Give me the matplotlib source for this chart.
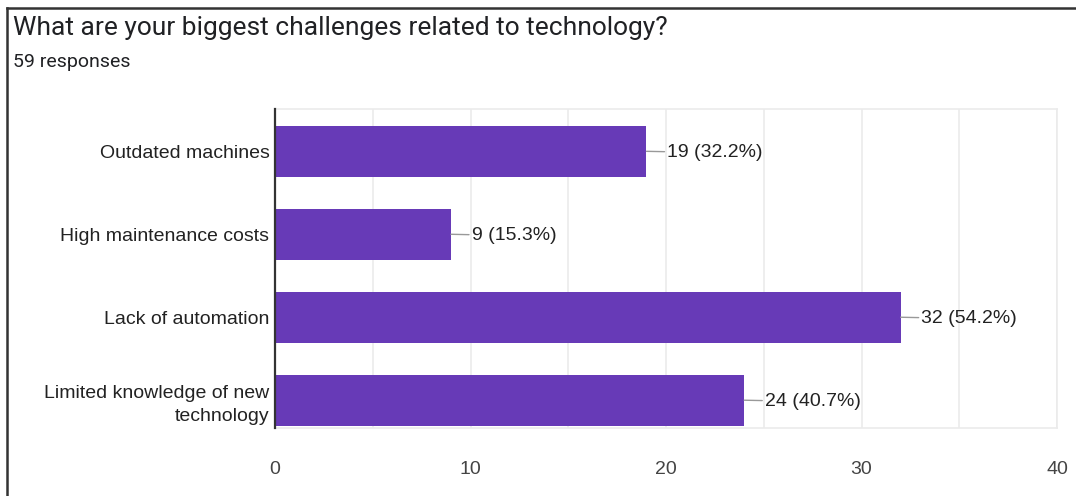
import matplotlib.pyplot as plt
from matplotlib.lines import Line2D
from matplotlib.ticker import MultipleLocator

categories = ["Outdated machines", "High maintenance costs", "Lack of automation",
              "Limited knowledge of new\ntechnology"]
counts = [19, 9, 32, 24]
total_responses = 59
x_ticks = [0, 10, 20, 30, 40]

title = "What are your biggest challenges related to technology?"
subtitle = f"{total_responses} responses"

BAR = "#673ab7"
GRID = "#ebebeb"

W, H = 1076, 496
fig = plt.figure(figsize=(W / 100, H / 100), dpi=100)
fig.patch.set_facecolor("white")

def fx(px):
    return px / W

def fy(py):
    return 1 - py / H

ax = fig.add_axes([fx(275), fy(428), fx(1057) - fx(275), fy(109) - fy(428)])

ypos = list(range(len(categories)))
ax.barh(ypos, counts, height=0.616, color=BAR, zorder=3)
ax.set_ylim(3.335, -0.51)
ax.set_xlim(0, 40)

ax.set_yticks(ypos)
ax.set_yticklabels(categories, fontsize=14, family="Liberation Sans", color="#222222",
                   ha="right", multialignment="right", linespacing=1.45)
ax.set_xticks(x_ticks)
ax.set_xticklabels([str(t) for t in x_ticks], fontsize=14, family="Liberation Sans",
                   color="#444444")
ax.tick_params(axis="both", which="both", length=0)
ax.tick_params(axis="y", pad=4)
ax.tick_params(axis="x", pad=24)

ax.xaxis.set_minor_locator(MultipleLocator(5))
ax.grid(axis="x", which="both", color=GRID, lw=1.2, zorder=0)
ax.grid(axis="y", visible=False)

for side in ("top", "right", "bottom"):
    ax.spines[side].set_color(GRID)
    ax.spines[side].set_linewidth(1.2)
ax.spines["left"].set_color("#333333")
ax.spines["left"].set_linewidth(1.6)
ax.spines["left"].set_zorder(4)

for i, v in enumerate(counts):
    pct = v / total_responses * 100
    ax.annotate(f"{v} ({pct:.1f}%)", xy=(v, i), xytext=(15, -1),
                textcoords="offset points", ha="left", va="center",
                fontsize=14, family="Liberation Sans", color="#222222",
                arrowprops=dict(arrowstyle="-", color="#999999", lw=1,
                                shrinkA=0, shrinkB=0), zorder=5)

fig.text(fx(13), fy(28), title, fontsize=19, family="Roboto", color="#202124",
         ha="left", va="center")
fig.text(fx(13), fy(62), subtitle, fontsize=14, family="Roboto", color="#202124",
         ha="left", va="center")

# card outline along the left and top edges
fig.add_artist(Line2D([fx(7), fx(7)], [0, fy(8)], color="#333333", lw=1.8))
fig.add_artist(Line2D([fx(7), 1], [fy(8), fy(8)], color="#333333", lw=1.8))

fig.savefig("out.png", dpi=100)
